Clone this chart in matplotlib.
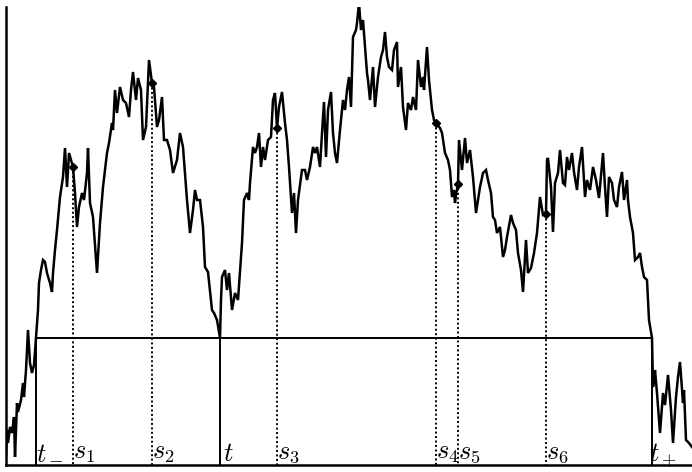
import numpy as np
import matplotlib
matplotlib.use("Agg")
import matplotlib.pyplot as plt

plt.rcParams['mathtext.fontset'] = 'cm'

# chemin (x, profondeur depuis le haut)
path_x = [6, 7, 8, 10, 12, 14, 15, 17, 18, 21, 23, 24, 26, 28, 30, 32, 34, 36, 38, 39, 41, 43, 45,
          47, 50, 52, 53, 55, 57, 60, 63, 65, 67, 69, 71, 73, 75, 77, 79, 82, 84, 87, 88, 90, 93,
          97, 100, 103, 107, 109, 112, 113, 115, 117, 120, 123, 126, 129, 131, 133, 136, 138, 141,
          143, 146, 149, 152, 154, 157, 159, 162, 164, 167, 170, 173, 177, 180, 183, 187, 190, 193,
          195, 197, 200, 203, 205, 208, 212, 214, 217, 220, 221, 222, 225, 227, 229, 232, 235, 238,
          242, 244, 247, 249, 250, 253, 255, 257, 259, 261, 263, 265, 268, 271, 273, 275, 277, 279,
          282, 285, 287, 289, 292, 294, 296, 298, 302, 305, 307, 310, 313, 315, 317, 320, 322, 324,
          326, 328, 331, 333, 335, 337, 340, 343, 345, 347, 349, 351, 353, 356, 357, 359, 361, 363,
          364, 367, 368, 370, 373, 375, 378, 381, 383, 385, 387, 389, 392, 394, 397, 398, 401, 403,
          406, 408, 411, 413, 416, 418, 421, 423, 424, 427, 429, 432, 434, 436, 440, 442, 445, 448,
          450, 452, 454, 455, 456, 458, 459, 462, 465, 467, 470, 473, 476, 480, 483, 486, 488, 491,
          493, 495, 497, 500, 503, 505, 507, 511, 513, 516, 518, 521, 523, 526, 528, 531, 534, 537,
          540, 543, 546, 547, 548, 551, 553, 555, 558, 560, 563, 565, 567, 569, 572, 574, 577, 579,
          582, 585, 587, 590, 593, 596, 599, 603, 605, 607, 609, 612, 614, 617, 619, 622, 624, 627,
          628, 630, 633, 635, 638, 640, 642, 644, 647, 648, 649, 652, 653, 654, 655, 657, 660, 663,
          665, 668, 671, 673, 676, 678, 680, 683, 684, 686, 689, 692]
path_y = [457, 430, 443, 427, 433, 417, 457, 403, 412, 400, 383, 397, 370, 330, 363, 373, 365, 338, 310, 283, 270, 260, 262,
          273, 283, 292, 273, 250, 230, 197, 177, 148, 187, 153, 160, 167, 193, 227, 207, 193, 200, 173, 148, 203, 217,
          273, 223, 187, 153, 143, 123, 130, 90, 113, 87, 100, 103, 117, 90, 72, 100, 78, 90,
          140, 127, 60, 83, 87, 127, 120, 97, 140, 140, 150, 173, 160, 133, 147, 200, 233, 210,
          190, 200, 200, 227, 267, 272, 310, 313, 320, 338, 300, 277, 270, 290, 273, 310, 293, 300,
          243, 200, 193, 200, 183, 147, 153, 147, 133, 167, 147, 160, 140, 137, 100, 93, 128, 107,
          92, 123, 140, 167, 213, 193, 233, 200, 170, 170, 180, 167, 147, 153, 147, 167, 133, 102,
          157, 110, 92, 133, 153, 163, 130, 100, 110, 90, 77, 107, 37, 30, 23, 3, 30, 20,
          33, 73, 80, 100, 67, 107, 77, 57, 50, 32, 57, 67, 70, 50, 42, 87, 67, 107,
          130, 103, 110, 97, 110, 60, 87, 77, 90, 47, 80, 110, 120, 123, 128, 133, 153, 160,
          170, 197, 190, 203, 195, 184, 140, 170, 138, 163, 150, 177, 213, 187, 173, 170, 180, 193,
          217, 220, 233, 227, 257, 250, 237, 215, 223, 230, 253, 270, 292, 240, 273, 268, 253, 233,
          197, 215, 214, 160, 158, 187, 232, 183, 173, 150, 183, 185, 157, 170, 153, 172, 190, 167,
          147, 197, 180, 190, 167, 180, 198, 153, 187, 217, 177, 183, 200, 207, 187, 172, 200, 180,
          200, 217, 233, 260, 257, 253, 267, 277, 280, 300, 320, 338, 387, 380, 370, 393, 433, 393,
          405, 375, 410, 443, 397, 377, 362, 403, 390, 440, 443, 447]

level = 338
t_minus, t_now, t_plus = 36, 220, 652
s_x = [73, 152, 277, 436, 458, 546]
s_names = ['$s_1$', '$s_2$', '$s_3$', '$s_4$', '$s_5$', '$s_6$']

fig = plt.figure(figsize=(6.92, 4.72), dpi=100)
ax = fig.add_axes([6 / 692, 7 / 472, 686 / 692, 458 / 472])
ax.set_xlim(6, 692)
ax.set_ylim(465, 7)

ax.plot(path_x, path_y, color='black', lw=1.8, solid_joinstyle='miter')

# niveau horizontal et verticales t-, t, t+
ax.plot([t_minus, t_plus], [level, level], color='black', lw=1.4)
for tx in [t_minus, t_now, t_plus]:
    ax.plot([tx, tx], [level, 465], color='black', lw=1.4)

# points s_i sur le chemin
s_y = np.interp(s_x, path_x, path_y)
for sx, sy in zip(s_x, s_y):
    ax.plot([sx, sx], [sy, 465], color='black', lw=1.4, ls=(0, (1.0, 1.3)))
ax.plot(s_x, s_y, 'D', color='black', ms=4.5)

lab_y = 459
fs = 19
for sx, name in zip(s_x, s_names):
    ax.text(sx, lab_y, name, fontsize=fs, ha='left', va='baseline')
ax.text(t_minus, lab_y, '$t_-$', fontsize=fs, ha='left', va='baseline')
ax.text(t_now + 3, lab_y + 2, '$t$', fontsize=fs, ha='left', va='baseline')
ax.text(t_plus - 3, lab_y + 2, '$t_+$', fontsize=fs, ha='left', va='baseline')

for side in ['top', 'right']:
    ax.spines[side].set_visible(False)
ax.spines['left'].set_linewidth(1.8)
ax.spines['bottom'].set_linewidth(1.8)
ax.set_xticks([])
ax.set_yticks([])

fig.savefig('out.png', dpi=100)
